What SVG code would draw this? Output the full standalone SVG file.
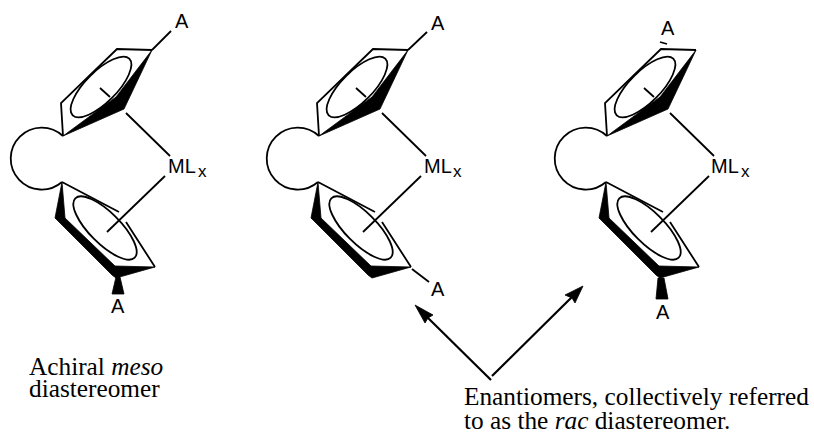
<svg xmlns="http://www.w3.org/2000/svg" width="814" height="437" viewBox="0 0 814 437">
<style>
.l{fill:none;stroke:#000;stroke-width:1.8}
.a{fill:none;stroke:#000;stroke-width:2.2}
.f{fill:#000;stroke:#000;stroke-width:.8;stroke-linejoin:round}
.s{font-family:"Liberation Sans",Arial,sans-serif;font-size:20px;fill:#000}
.x{font-family:"Liberation Sans",Arial,sans-serif;font-size:17px;fill:#000}
.t{font-family:"Liberation Serif","Times New Roman",serif;font-size:25.3px;fill:#000}
</style>
<defs>
<g id="top">
<path class="l" d="M63 136A31 31 0 1 0 62 182"/>
<path class="l" d="M63 136L61 103L117 49L152 50"/>
<path class="f" d="M63 136L124 109L152 50L116 97Z"/>
<ellipse class="l" cx="101" cy="87" rx="40" ry="15.5" transform="rotate(-45 101 87)"/>
<path class="l" d="M100 88L110 97M126 113L170 156"/>
</g>
<g id="bot">
<path class="l" d="M62 182L119 212M126 222L155 267"/>
<path class="f" d="M62 182L55 218L112 275L116 278L155 267L115 266L65 218Z"/>
<ellipse class="l" cx="105" cy="228" rx="42" ry="15.5" transform="rotate(45 105 228)"/>
<path class="l" d="M165 176L107 232"/>
</g>
</defs>
<g id="meso">
<use href="#top"/><use href="#bot"/>
<path class="l" d="M152 50L171 31"/>
<path class="f" d="M116 277L112 294L124 294L120 277Z"/>
<text class="s" x="175" y="28">A</text>
<text class="s" x="111" y="313">A</text>
<text class="s" x="168" y="173">ML</text><text class="x" x="198" y="177">x</text>
</g>
<g id="rac1">
<g transform="translate(256 0)"><use href="#top"/></g>
<g transform="translate(256 0)"><use href="#bot"/></g>
<path class="l" d="M408 50L427 32"/>
<path class="l" d="M412 269L429 282"/>
<text class="s" x="431" y="30">A</text>
<text class="s" x="431" y="296">A</text>
<text class="s" x="424" y="173">ML</text><text class="x" x="453" y="177">x</text>
</g>
<g id="rac2">
<g transform="translate(544 0)"><use href="#top"/></g>
<g transform="translate(544 0)"><use href="#bot"/></g>
<path class="l" d="M660 42L667 44"/>
<path class="f" d="M658 278L656 299L668 299L664 278Z"/>
<text class="s" x="661" y="35">A</text>
<text class="s" x="656" y="319">A</text>
<text class="s" x="711" y="173">ML</text><text class="x" x="741" y="177">x</text>
</g>
<g id="connectors">
<path class="a" d="M491 380L424 314"/>
<path class="f" d="M415 305L433 315L428 318L425 323Z"/>
<path class="a" d="M492 376L574 295"/>
<path class="f" d="M583 286L575 303L572 298L565 295Z"/>
</g>
<g id="labels">
<text class="t" x="29" y="375">Achiral <tspan font-style="italic">meso</tspan></text>
<text class="t" x="29" y="397">diastereomer</text>
<text class="t" x="464" y="405">Enantiomers, collectively referred</text>
<text class="t" x="464" y="429">to as the <tspan font-style="italic">rac</tspan> diastereomer.</text>
</g>
</svg>
